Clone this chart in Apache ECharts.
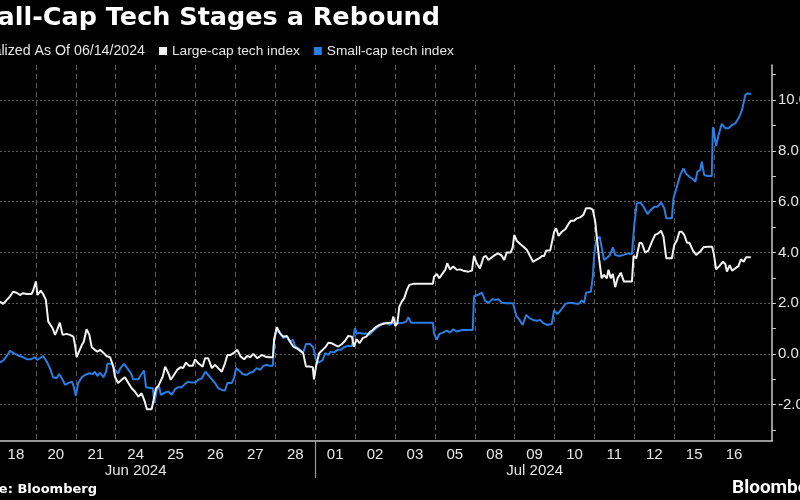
<!DOCTYPE html>
<html><head><meta charset="utf-8">
<script src="https://cdn.jsdelivr.net/npm/echarts@6/dist/echarts.min.js"></script>
<style>html,body{margin:0;padding:0;background:#000;}#c{width:800px;height:500px;}</style>
</head><body><div id="c"></div>
<script>
const title = 'Small-Cap Tech Stages a Rebound';
const subtitle = 'Normalized As Of 06/14/2024';
const source = 'Source: Bloomberg';
const seriesNames = ['Large-cap tech index', 'Small-cap tech index'];
// trading-day slots (Jun 19 and Jul 04 market holidays)
const dayLabels = ['18','20','21','24','25','26','27','28','01','02','03','05','08','09','10','11','12','15','16'];
const months = [{label:'Jun 2024', from:-1, to:8}, {label:'Jul 2024', from:8, to:19}];
const yLabelValues = [-2, 0, 2, 4, 6, 8, 10];
const yTickValues = [-3, -2, -1, 0, 1, 2, 3, 4, 5, 6, 7, 8, 9, 10, 11];
// [trading-day time, % change]
const largeCap = [
[0.10,2.06],[0.18,1.97],[0.27,2.13],[0.35,2.26],[0.43,2.45],[0.52,2.41],[0.60,2.32],[0.68,2.39],[0.77,2.36],[0.89,2.36],[0.93,2.49],
[1.00,2.85],[1.04,2.32],[1.12,2.49],[1.18,2.36],[1.25,2.13],[1.31,1.27],[1.35,1.22],[1.42,1.01],[1.48,0.75],[1.53,0.94],[1.60,1.23],[1.67,0.75],[1.77,0.79],[1.85,0.75],[1.94,0.68],[1.98,0.35],
[2.02,-0.13],[2.07,-0.13],[2.15,0.35],[2.20,0.48],[2.27,0.97],[2.34,0.75],[2.40,0.26],[2.48,0.16],[2.54,0.09],[2.61,0.16],[2.69,0.05],[2.77,-0.08],[2.86,-0.13],[2.94,-0.5],[2.98,-0.89],
[3.06,-1.15],[3.15,-1.02],[3.23,-0.92],[3.32,-1.15],[3.40,-1.35],[3.48,-1.48],[3.57,-1.68],[3.65,-1.55],[3.73,-1.88],[3.78,-2.18],[3.90,-2.18],[3.96,-1.74],
[4.01,-1.35],[4.07,-1.26],[4.11,-1.29],[4.18,-0.89],[4.24,-0.5],[4.32,-0.76],[4.38,-1.02],[4.46,-0.83],[4.54,-0.63],[4.63,-0.52],[4.69,-0.56],[4.76,-0.34],[4.84,-0.47],[4.93,-0.47],[4.99,-0.21],
[5.07,-0.37],[5.18,-0.5],[5.24,-0.17],[5.32,-0.17],[5.41,-0.56],[5.49,-0.43],[5.57,-0.56],[5.66,-0.7],[5.74,-0.37],[5.80,-0.04],[5.88,-0.04],[5.95,0.03],
[6.05,0.16],[6.13,-0.1],[6.22,-0.21],[6.30,-0.08],[6.37,-0.13],[6.45,0.0],[6.55,-0.17],[6.66,-0.04],[6.74,-0.1],[6.83,-0.13],[6.94,-0.13],[6.97,0.55],
[7.04,1.05],[7.12,0.81],[7.20,0.68],[7.29,0.71],[7.37,0.48],[7.45,0.29],[7.54,0.22],[7.62,0.13],[7.70,0.03],[7.77,-0.5],[7.85,-0.5],[7.94,-0.52],[7.97,-1.0],
[8.02,-0.5],[8.10,0.03],[8.19,0.16],[8.27,0.29],[8.33,0.44],[8.42,0.42],[8.50,0.35],[8.58,0.29],[8.67,0.39],[8.75,0.52],[8.83,0.71],[8.92,0.68],[8.97,0.29],
[9.04,0.58],[9.11,0.42],[9.19,0.62],[9.28,0.68],[9.36,0.84],[9.44,0.94],[9.53,1.07],[9.61,1.14],[9.69,1.18],[9.78,1.21],[9.86,1.23],[9.92,1.23],[9.96,1.47],
[10.01,1.1],[10.06,1.21],[10.11,1.86],[10.17,2.06],[10.23,2.19],[10.30,2.52],[10.36,2.72],[10.46,2.76],[10.71,2.76],[10.95,2.76],[10.98,3.04],
[11.05,3.15],[11.11,2.98],[11.20,3.18],[11.26,3.31],[11.31,3.57],[11.38,3.33],[11.46,3.44],[11.55,3.31],[11.63,3.33],[11.71,3.28],[11.84,3.24],[11.93,3.28],[11.98,3.86],
[12.05,3.57],[12.13,3.37],[12.22,3.81],[12.28,3.86],[12.34,3.7],[12.43,3.81],[12.51,3.9],[12.59,3.96],[12.68,3.86],[12.74,3.7],[12.80,3.99],[12.90,3.99],[12.95,4.2],[12.99,4.69],
[13.05,4.46],[13.14,4.33],[13.22,4.22],[13.31,4.09],[13.37,3.9],[13.46,3.63],[13.54,3.7],[13.62,3.77],[13.68,3.86],[13.74,3.86],[13.79,4.07],[13.89,4.07],[13.93,4.12],[13.99,4.81],
[14.04,4.95],[14.10,4.65],[14.18,4.81],[14.27,4.91],[14.35,5.12],[14.41,5.25],[14.49,5.25],[14.56,5.34],[14.64,5.38],[14.72,5.47],[14.79,5.74],[14.89,5.74],[14.96,5.67],
[15.02,5.21],[15.07,4.42],[15.12,3.7],[15.18,2.98],[15.24,3.11],[15.31,2.98],[15.35,3.31],[15.41,2.98],[15.46,3.15],[15.52,2.63],[15.58,2.98],[15.66,3.2],[15.74,2.85],[15.94,2.85],[15.98,3.86],
[16.05,3.77],[16.13,4.38],[16.19,4.36],[16.27,3.99],[16.35,4.07],[16.44,4.42],[16.52,4.69],[16.60,4.75],[16.67,4.85],[16.73,4.62],[16.80,3.77],[16.94,3.77],
[17.00,4.29],[17.07,4.49],[17.13,4.81],[17.19,4.81],[17.25,4.69],[17.32,4.38],[17.38,4.38],[17.47,4.07],[17.55,3.9],[17.65,4.03],[17.73,4.2],[17.83,4.22],[17.95,4.22],[17.99,3.96],
[18.05,3.33],[18.13,3.46],[18.22,3.63],[18.28,3.54],[18.32,3.24],[18.39,3.5],[18.45,3.28],[18.53,3.37],[18.61,3.46],[18.67,3.73],[18.74,3.63],[18.80,3.81],[18.92,3.81]
];
const smallCap = [
[0.10,-0.34],[0.18,-0.26],[0.27,-0.08],[0.35,0.12],[0.47,0.0],[0.60,-0.08],[0.68,-0.13],[0.77,-0.21],[0.89,-0.21],[0.98,-0.13],
[1.03,-0.24],[1.10,-0.17],[1.18,-0.08],[1.27,-0.3],[1.35,-0.56],[1.43,-0.92],[1.52,-0.96],[1.58,-0.79],[1.65,-0.96],[1.73,-1.22],[1.81,-1.15],[1.90,-1.09],[1.95,-1.29],
[2.00,-1.65],[2.06,-1.15],[2.15,-0.92],[2.23,-0.83],[2.34,-0.76],[2.42,-0.79],[2.48,-0.7],[2.54,-0.87],[2.61,-0.74],[2.69,-0.92],[2.76,-0.7],[2.79,-0.39],[2.90,-0.39],[2.98,-0.63],
[3.06,-0.76],[3.12,-0.56],[3.21,-0.39],[3.29,-0.56],[3.38,-0.76],[3.44,-1.0],[3.57,-1.0],[3.63,-0.83],[3.71,-0.66],[3.76,-1.31],[3.93,-1.35],[3.97,-1.94],
[4.03,-1.42],[4.09,-1.29],[4.13,-1.61],[4.24,-1.52],[4.32,-1.48],[4.40,-1.61],[4.49,-1.39],[4.57,-1.31],[4.65,-1.31],[4.74,-1.18],[4.82,-1.09],[4.90,-1.13],[4.99,-1.13],
[5.07,-1.02],[5.16,-0.96],[5.20,-1.02],[5.25,-0.7],[5.32,-0.83],[5.41,-1.0],[5.49,-1.15],[5.57,-1.35],[5.66,-1.42],[5.74,-1.44],[5.80,-1.15],[5.91,-1.15],[5.97,-0.92],
[6.02,-0.56],[6.10,-0.66],[6.18,-0.79],[6.28,-0.83],[6.37,-0.74],[6.45,-0.7],[6.53,-0.56],[6.62,-0.63],[6.70,-0.47],[6.79,-0.43],[6.87,-0.47],[6.94,-0.47],[6.97,0.55],
[7.02,0.94],[7.12,0.81],[7.20,0.62],[7.29,0.68],[7.37,0.48],[7.44,0.55],[7.50,0.31],[7.58,0.22],[7.64,0.13],[7.70,0.05],[7.77,0.39],[7.87,0.39],[7.95,0.26],
[8.02,-0.24],[8.08,-0.34],[8.12,-0.37],[8.19,-0.24],[8.25,0.03],[8.33,-0.04],[8.39,0.09],[8.47,0.05],[8.56,0.16],[8.64,0.16],[8.72,0.26],[8.81,0.31],[8.92,0.31],[8.96,0.68],
[9.00,1.01],[9.04,0.79],[9.11,0.84],[9.19,0.79],[9.28,0.81],[9.36,0.75],[9.44,0.88],[9.53,1.01],[9.61,1.1],[9.69,1.21],[9.78,1.23],[9.86,1.14],[9.94,1.21],
[10.03,1.23],[10.11,1.21],[10.21,1.23],[10.28,1.27],[10.34,1.44],[10.40,1.23],[10.55,1.23],[10.95,1.23],[10.98,0.81],
[11.05,0.55],[11.11,0.79],[11.20,0.84],[11.30,0.92],[11.38,0.84],[11.46,0.97],[11.55,0.88],[11.63,0.92],[11.71,0.94],[11.95,0.94],[11.98,2.26],
[12.07,2.32],[12.18,2.41],[12.26,2.1],[12.34,2.0],[12.43,2.15],[12.51,2.13],[12.59,2.15],[12.68,2.02],[12.80,2.0],[12.96,2.0],
[13.04,1.5],[13.12,1.34],[13.20,1.14],[13.29,1.54],[13.37,1.41],[13.46,1.34],[13.56,1.31],[13.64,1.34],[13.72,1.21],[13.81,1.14],[13.93,1.18],[13.99,1.73],
[14.07,1.57],[14.16,1.73],[14.27,1.97],[14.37,2.02],[14.49,2.0],[14.60,1.97],[14.68,2.1],[14.74,2.02],[14.79,2.41],[14.91,2.45],[14.96,3.04],[14.99,3.83],
[15.04,4.46],[15.13,4.62],[15.19,4.12],[15.24,3.7],[15.33,3.81],[15.39,3.9],[15.46,4.2],[15.52,3.9],[15.63,3.86],[15.73,3.9],[15.83,3.96],[15.94,3.94],
[16.00,5.12],[16.06,5.93],[16.15,5.96],[16.23,5.8],[16.33,5.51],[16.41,5.67],[16.50,5.8],[16.58,5.8],[16.67,5.96],[16.75,5.74],[16.80,5.34],[16.94,5.34],[16.98,6.13],
[17.07,6.61],[17.15,7.05],[17.23,7.31],[17.30,7.09],[17.38,6.98],[17.47,6.88],[17.53,6.78],[17.58,7.18],[17.65,7.24],[17.69,7.57],[17.75,7.05],[17.83,7.01],[17.94,7.01],[17.97,8.94],
[18.00,8.71],[18.05,8.19],[18.11,8.62],[18.19,9.06],[18.28,8.89],[18.36,8.89],[18.45,9.02],[18.53,9.08],[18.61,9.28],[18.70,9.61],[18.78,10.2],[18.84,10.26],[18.92,10.24]
];

const WHITE = '#f2f2f2', BLUE = '#2a7de1', AXIS = '#c8c8c8', GRID = '#5c5c5c', TEXT = '#e6e6e6';
const FONT = '"Liberation Sans", Arial, sans-serif';
const dayBoundaries = dayLabels.map((d, i) => i).filter(i => i > 0);
const dayCenters = dayLabels.map((d, i) => i + 0.5);
const monthCenters = months.map(m => (m.from + m.to) / 2);
const monthBreaks = months.slice(1).map(m => m.from);

const chart = echarts.init(document.getElementById('c'), null, {renderer: 'canvas'});
chart.setOption({
  backgroundColor: '#000',
  animation: false,
  legend: {
    left: 159, top: 44, itemWidth: 8, itemHeight: 8, itemGap: 14, icon: 'rect', padding: 0,
    textStyle: {color: TEXT, fontSize: 13.7, fontFamily: FONT},
    data: seriesNames
  },
  grid: {left: -4, right: 28, top: 65, bottom: 59, containLabel: false, outerBoundsMode: 'none'},
  xAxis: [{
    type: 'value', min: 0, max: 19.45,
    axisLine: {show: true, onZero: false, lineStyle: {color: AXIS, width: 1.5}},
    axisTick: {show: false, customValues: dayBoundaries},
    splitLine: {show: true, lineStyle: {color: GRID, type: [5, 4], width: 1}},
    axisLabel: {customValues: dayCenters, margin: 6, color: TEXT, fontSize: 15, fontFamily: FONT,
      formatter: v => dayLabels[Math.round(v - 0.5)] || ''}
  }, {
    type: 'value', min: 0, max: 19.45, position: 'bottom',
    axisLine: {show: false, onZero: false},
    axisTick: {show: true, customValues: monthBreaks, length: 37, lineStyle: {color: '#9a9a9a', width: 1.2}},
    splitLine: {show: false},
    axisLabel: {customValues: monthCenters, margin: 22, color: TEXT, fontSize: 15, fontFamily: FONT,
      formatter: v => { const m = months.find(mm => Math.abs((mm.from + mm.to) / 2 - v) < 0.01); return m ? m.label : ''; }}
  }],
  yAxis: [{
    type: 'value', position: 'right', min: -3.43, max: 11.38,
    axisLine: {show: true, onZero: false, lineStyle: {color: AXIS, width: 1.5}},
    axisTick: {show: true, inside: false, length: 4, customValues: yTickValues, lineStyle: {color: AXIS}},
    splitLine: {show: false},
    axisLabel: {customValues: yLabelValues, margin: 6, color: TEXT, fontSize: 15, fontFamily: FONT,
      formatter: v => v.toFixed(1)}
  }, {
    // carries only the horizontal gridlines at the labelled values
    type: 'value', position: 'left', min: -3.43, max: 11.38,
    axisLine: {show: false, onZero: false},
    axisTick: {show: false, customValues: yLabelValues},
    splitLine: {show: true, lineStyle: {color: GRID, type: [2, 2], width: 1}},
    axisLabel: {show: false}
  }],
  series: [{
    name: seriesNames[1], type: 'line', data: smallCap, showSymbol: false, symbol: 'none',
    lineStyle: {color: BLUE, width: 2}, itemStyle: {color: BLUE}, z: 2
  }, {
    name: seriesNames[0], type: 'line', data: largeCap, showSymbol: false, symbol: 'none',
    lineStyle: {color: WHITE, width: 2}, itemStyle: {color: WHITE}, z: 3
  }],
  graphic: [
    {type: 'text', x: 440, y: 18, style: {text: title, fill: '#ffffff', font: 'bold 25.5px "DejaVu Sans", sans-serif', textAlign: 'right', textVerticalAlign: 'middle'}},
    {type: 'text', x: 145, y: 51, style: {text: subtitle, fill: TEXT, font: '14.2px ' + FONT, textAlign: 'right', textVerticalAlign: 'middle'}},
    {type: 'text', x: 97, y: 490, style: {text: source, fill: '#ffffff', font: 'bold 13px "DejaVu Sans", sans-serif', textAlign: 'right', textVerticalAlign: 'middle'}},
    {type: 'text', x: 732, y: 488, style: {text: 'Bloomberg', fill: '#ffffff', font: 'bold 19px Roboto, sans-serif', textAlign: 'left', textVerticalAlign: 'middle'}}
  ]
});
</script></body></html>
